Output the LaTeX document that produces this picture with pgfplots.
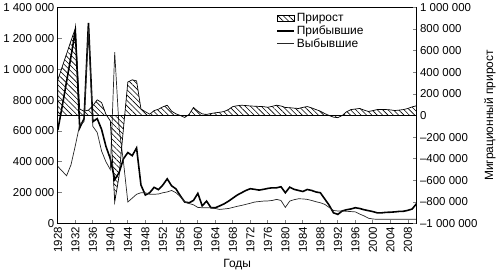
\documentclass[border=0pt]{standalone}
\usepackage{fontspec}
\setmainfont{Liberation Sans}
\usepackage{pgfplots}
\usepackage{pgfplotstable}
\pgfplotsset{compat=1.18}
\usetikzlibrary{patterns.meta}

\pgfplotstableread{
year arr dep
1928 606000 370000
1929 760000 340000
1930 920000 310000
1931 1080000 380000
1932 1250000 505000
1933 620000 640000
1934 680000 660000
1935 1300000 1260000
1936 660000 630000
1937 680000 590000
1938 610000 470000
1939 500000 400000
1940 420000 350000
1941 285000 1110000
1942 330000 620000
1943 420000 400000
1944 460000 140000
1945 440000 165000
1946 490000 190000
1947 250000 200000
1948 185000 200000
1949 200000 190000
1950 235000 190000
1951 220000 192000
1952 250000 200000
1953 290000 205000
1954 245000 215000
1955 225000 200000
1956 180000 175000
1957 140000 140000
1958 135000 130000
1959 150000 122000
1960 196000 105000
1961 115000 103000
1962 146000 103000
1963 103000 103000
1964 103000 98000
1965 115000 92000
1966 128000 95000
1967 145000 98000
1968 165000 105000
1969 185000 112000
1970 200000 118000
1971 215000 125000
1972 226000 132000
1973 222000 140000
1974 217000 143000
1975 222000 146000
1976 228000 147000
1977 232000 150000
1978 232000 157000
1979 239000 150000
1980 200000 105000
1981 236000 146000
1982 222000 155000
1983 215000 161000
1984 208000 160000
1985 221000 157000
1986 215000 150000
1987 205000 142000
1988 200000 135000
1989 160000 125000
1990 120000 105000
1991 70000 85000
1992 60000 82000
1993 82000 82000
1994 90000 80000
1995 95000 78000
1996 103000 76000
1997 98000 62000
1998 90000 50000
1999 84000 35000
2000 78000 30000
2001 70000 28000
2002 70000 28000
2003 73000 28000
2004 74000 28000
2005 76000 28000
2006 79000 28000
2007 80000 28000
2008 86000 28000
2009 95000 28000
2010 130000 28000
}\flows

\pgfplotstableread{
year net
1928 330000
1929 450000
1930 570000
1931 690000
1932 805000
1933 60000
1934 40000
1935 50000
1936 90000
1937 145000
1938 120000
1939 10000
1940 -50000
1941 -800000
1942 -560000
1943 -120000
1944 310000
1945 330000
1946 320000
1947 60000
1948 35000
1949 12000
1950 45000
1951 58000
1952 80000
1953 95000
1954 40000
1955 15000
1956 0
1957 -18000
1958 10000
1959 74000
1960 40000
1961 15000
1962 10000
1963 18000
1964 25000
1965 30000
1966 37000
1967 55000
1968 83000
1969 90000
1970 95000
1971 92000
1972 88000
1973 86000
1974 84000
1975 82000
1976 76000
1977 85000
1978 95000
1979 88000
1980 74000
1981 72000
1982 68000
1983 65000
1984 75000
1985 83000
1986 70000
1987 55000
1988 40000
1989 18000
1990 0
1991 -15000
1992 -20000
1993 0
1994 35000
1995 55000
1996 60000
1997 65000
1998 50000
1999 37000
2000 45000
2001 55000
2002 55000
2003 55000
2004 52000
2005 46000
2006 50000
2007 55000
2008 65000
2009 80000
2010 90000
}\netgrowth

\begin{document}
\begin{tikzpicture}
\pgfplotsset{
  every axis/.append style={
    scale only axis, width=360pt, height=217pt,
    xmin=1928, xmax=2010,
    tick align=inside,
    axis line style={line width=0.9pt},
    major tick style={line width=0.7pt},
    minor tick style={line width=0.6pt},
    major tick length=4pt, minor tick length=2.5pt,
    tick label style={font=\fontsize{11.5}{12}\selectfont},
    label style={font=\fontsize{12}{13}\selectfont},
    /pgf/number format/1000 sep={},
    /pgf/number format/assume math mode=true,
    scaled y ticks=false,
  }
}
\begin{axis}[
  ymin=0, ymax=1400000,
  xtick={1928,1932,...,2008}, minor x tick num=3,
  ytick={0,200000,400000,600000,800000,1000000,1200000,1400000},
  yticklabels={0,200 000,400 000,600 000,800 000,1 000 000,1 200 000,1 400 000},
  xtick pos=bottom, ytick pos=left,
  x tick label style={rotate=90, anchor=east},
  xlabel={Годы},
]
\addplot[black, line width=1.6pt] table[x=year, y=arr] {\flows};
\addplot[black!85, line width=0.7pt] table[x=year, y=dep] {\flows};
\end{axis}
\begin{axis}[
  ymin=-1000000, ymax=1000000,
  axis x line=none, axis y line*=right,
  ytick={-1000000,-800000,-600000,-400000,-200000,0,200000,400000,600000,800000,1000000},
  yticklabels={–1 000 000,–800 000,–600 000,–400 000,–200 000,0,200 000,400 000,600 000,800 000,1 000 000},
  ylabel={Миграционный прирост},
  legend style={at={(0.6,0.99)}, anchor=north west, draw=none, fill=none,
    font=\fontsize{12}{13}\selectfont, row sep=-1.5pt},
  legend cell align=left,
]
\addplot[draw=black, line width=0.7pt, pattern={Lines[angle=-45, distance=3.8pt, line width=0.6pt]}, area legend] table[x=year, y=net] {\netgrowth} \closedcycle;
\addlegendentry{Прирост}
\addlegendimage{black, line width=1.6pt}
\addlegendentry{Прибывшие}
\addlegendimage{black!85, line width=0.7pt}
\addlegendentry{Выбывшие}
\addplot[black, line width=1.1pt, forget plot] coordinates {(1928,0) (2010,0)};
\end{axis}
\end{tikzpicture}
\end{document}
